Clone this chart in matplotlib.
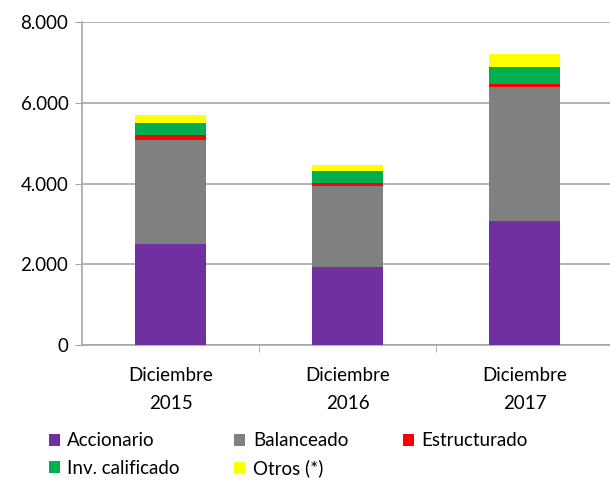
import matplotlib.pyplot as plt
import numpy as np
from matplotlib.patches import Patch

plt.rcParams['font.family'] = ['Lato', 'DejaVu Sans']

# datos
categorias = ['Diciembre\n2015', 'Diciembre\n2016', 'Diciembre\n2017']
accionario = [2500, 1925, 3080]
balanceado = [2585, 2020, 3310]
estructurado = [125, 60, 80]
inv_calificado = [280, 300, 415]
otros = [205, 165, 320]

series = [
    ('Accionario', accionario, '#7030a0'),
    ('Balanceado', balanceado, '#808080'),
    ('Estructurado', estructurado, '#ff0000'),
    ('Inv. calificado', inv_calificado, '#00b050'),
    ('Otros (*)', otros, '#ffff00'),
]

fig = plt.figure(figsize=(6.1, 4.8), dpi=100)
ax = fig.add_axes([0.135, 0.281, 0.87, 0.673])

x = np.arange(len(categorias))
base = np.zeros(len(categorias))
handles = {}
for nombre, vals, color in series:
    ax.bar(x, vals, 0.4, bottom=base, color=color, zorder=3)
    base += np.array(vals)
    handles[nombre] = Patch(facecolor=color)

ax.set_xlim(-0.5, 2.5)
ax.set_ylim(0, 8000)
ax.set_yticks([0, 2000, 4000, 6000, 8000])
ax.set_yticklabels(['0', '2.000', '4.000', '6.000', '8.000'], fontsize=13.5)
ax.yaxis.grid(True, color='#a6a6a6', linewidth=1.2, zorder=0)

ax.set_xticks(x)
ax.set_xticklabels(categorias, fontsize=13.5, linespacing=1.75)
ax.tick_params(axis='x', length=0, pad=16)
ax.set_xticks([0.5, 1.5], minor=True)
ax.tick_params(axis='x', which='minor', length=5, color='#a6a6a6')
ax.tick_params(axis='y', length=5, color='#a6a6a6', pad=5)

for lado in ['top', 'right']:
    ax.spines[lado].set_visible(False)
for lado in ['left', 'bottom']:
    ax.spines[lado].set_color('#a6a6a6')
    ax.spines[lado].set_linewidth(1.2)

orden = ['Accionario', 'Inv. calificado', 'Balanceado', 'Otros (*)', 'Estructurado']
fig.legend([handles[n] for n in orden], orden, loc='lower left',
           bbox_to_anchor=(0.052, -0.03), ncol=3, frameon=False, fontsize=13.5,
           handlelength=0.6, handleheight=0.6, handletextpad=0.4,
           columnspacing=2.9, labelspacing=0.55)

fig.savefig('out.png', dpi=100)
